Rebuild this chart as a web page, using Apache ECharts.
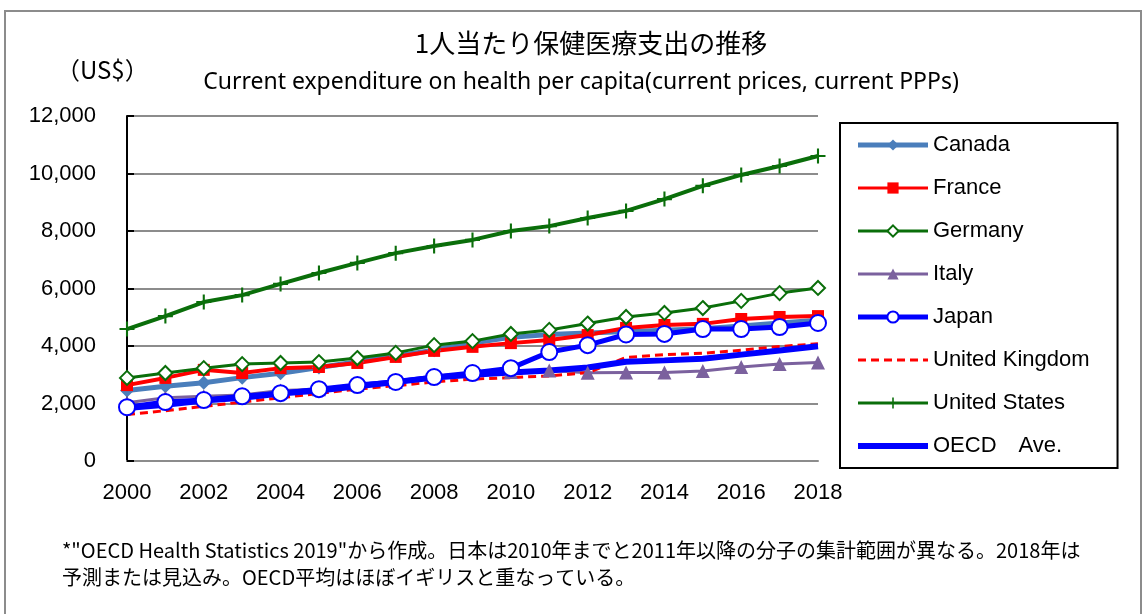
<!DOCTYPE html>
<html>
<head>
<meta charset="utf-8">
<script src="https://cdn.jsdelivr.net/npm/echarts@6/dist/echarts.min.js"></script>
<style>
  html, body { margin: 0; padding: 0; background: #fff; }
  #main { width: 1145px; height: 614px; }
</style>
</head>
<body>
<div id="main"></div>
<script>
// 年（横軸）
var years = ['2000','2001','2002','2003','2004','2005','2006','2007','2008','2009',
  '2010','2011','2012','2013','2014','2015','2016','2017','2018'];

// 各国の1人当たり保健医療支出 (US$) -- 図から読み取り
var canada  = [2450,2600,2720,2900,3050,3250,3450,3650,3850,4100,4300,4400,4450,4500,4550,4600,4700,4800,4900];
var france  = [2640,2890,3170,3060,3230,3270,3410,3620,3830,3970,4100,4210,4380,4630,4730,4770,4940,5010,5040];
var germany = [2890,3060,3230,3370,3410,3440,3580,3760,4030,4170,4420,4560,4780,5010,5150,5320,5570,5840,6020];
var italy   = [2030,2200,2250,2300,2450,2500,2650,2750,2950,3050,3100,3150,3070,3080,3080,3130,3270,3370,3430];
var japan   = [1870,2050,2120,2250,2360,2500,2640,2750,2920,3060,3230,3790,4030,4400,4420,4590,4590,4660,4800];
var uk      = [1620,1750,1900,2050,2200,2350,2500,2620,2750,2850,2900,2960,3070,3600,3700,3750,3850,3980,4080];
var us      = [4590,5040,5530,5770,6160,6540,6890,7230,7480,7690,8000,8170,8450,8700,9110,9570,9950,10260,10610];
var oecd    = [1840,1960,2100,2200,2350,2450,2600,2750,2900,3000,3080,3150,3250,3450,3500,3560,3700,3840,3990];

var yTicks = [0, 2000, 4000, 6000, 8000, 10000, 12000];

var fontLatin = 'Liberation Sans';
var fontJp = 'Noto Sans CJK JP';

var plusPath = 'path://M4.3,0h1.4v10h-1.4z M0,4.3h10v1.4h-10z';

var chart = echarts.init(document.getElementById('main'));

function line(name, data, color, width, symbol, size, fill, dashed) {
  return {
    name: name,
    type: 'line',
    data: data,
    symbol: symbol,
    symbolSize: size,
    showSymbol: symbol !== 'none',
    lineStyle: { color: color, width: width, type: dashed ? [8, 5] : 'solid' },
    itemStyle: { color: fill || color, borderColor: color, borderWidth: fill ? 2 : 0 },
    emphasis: { disabled: true },
    animation: false
  };
}

// 凡例（線の太さは系列に合わせる）
var legendItems = [
  { name: 'Canada', lineStyle: { width: 5 } },
  { name: 'France', lineStyle: { width: 3 } },
  { name: 'Germany', lineStyle: { width: 3 } },
  { name: 'Italy', lineStyle: { width: 3 } },
  { name: 'Japan', lineStyle: { width: 5 } },
  { name: 'United Kingdom', lineStyle: { width: 3 }, itemStyle: { opacity: 0 } },
  { name: 'United States', lineStyle: { width: 3 } },
  { name: 'OECD　Ave.', lineStyle: { width: 6 }, itemStyle: { opacity: 0 } }
];

var option = {
  backgroundColor: '#fff',
  textStyle: { fontFamily: fontLatin, color: '#000' },
  graphic: [
    { type: 'rect', shape: { x: 5, y: 11, width: 1136, height: 620 },
      style: { fill: 'none', stroke: '#8c8c8c', lineWidth: 2 }, silent: true },
    { type: 'text', x: 591, y: 30,
      style: { text: '1人当たり保健医療支出の推移', font: '26px ' + fontJp, fill: '#000', align: 'center' } },
    { type: 'text', x: 581, y: 71,
      style: { text: 'Current expenditure on health per capita(current prices, current PPPs)',
        font: '23px "Noto Sans"', fill: '#000', align: 'center' } },
    { type: 'text', x: 56, y: 58,
      style: { text: '（US$）', font: '24px ' + fontJp, fill: '#000' } },
    { type: 'text', x: 62, y: 540,
      style: { text: '*"OECD Health Statistics 2019"から作成。日本は2010年までと2011年以降の分子の集計範囲が異なる。2018年は',
        font: '20px ' + fontJp, fill: '#000' } },
    { type: 'text', x: 62, y: 567,
      style: { text: '予測または見込み。OECD平均はほぼイギリスと重なっている。',
        font: '20px ' + fontJp, fill: '#000' } }
  ],
  legend: {
    orient: 'vertical',
    left: 840,
    top: 123,
    padding: [11, 28, 11, 15],
    itemWidth: 70,
    itemHeight: 14,
    itemGap: 21,
    borderColor: '#000',
    borderWidth: 2,
    textStyle: { fontSize: 22, fontFamily: fontLatin, color: '#000' },
    selectedMode: false,
    data: legendItems
  },
  grid: { left: 127, right: 327, top: 116, bottom: 153 },
  xAxis: {
    type: 'category',
    data: years,
    boundaryGap: false,
    axisLine: { lineStyle: { color: '#8c8c8c', width: 2 } },
    axisTick: { show: false },
    axisLabel: { interval: 1, fontSize: 22, margin: 21, color: '#000' }
  },
  yAxis: {
    type: 'value',
    min: yTicks[0],
    max: yTicks[yTicks.length - 1],
    interval: 2000,
    axisLine: { show: true, lineStyle: { color: '#000', width: 2 } },
    axisTick: { show: true, inside: true, length: 7, lineStyle: { color: '#000', width: 2 } },
    splitLine: { lineStyle: { color: '#8c8c8c', width: 2 } },
    axisLabel: {
      fontSize: 22, margin: 31, color: '#000',
      formatter: function (v) { return v.toLocaleString('en-US'); }
    }
  },
  series: [
    line('Canada', canada, '#4a7ebb', 5, 'diamond', 14),
    line('France', france, '#ff0000', 4, 'rect', 12),
    line('Germany', germany, '#0a6e0a', 3, 'diamond', 14, '#fff'),
    line('Italy', italy, '#7b619e', 3, 'triangle', 14),
    line('Japan', japan, '#0000ff', 5, 'circle', 16, '#fff'),
    line('United Kingdom', uk, '#ff0000', 3, 'none', 0, null, true),
    line('United States', us, '#0a6e0a', 4, plusPath, 15),
    line('OECD　Ave.', oecd, '#0000ff', 6, 'none', 0)
  ]
};

chart.setOption(option);
</script>
</body>
</html>
